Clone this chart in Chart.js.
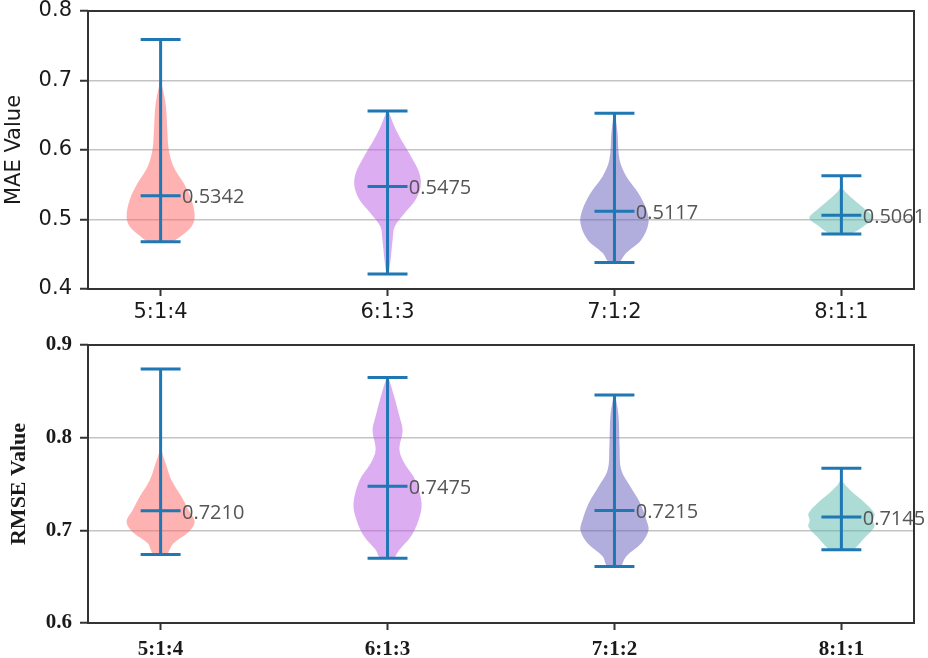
<!DOCTYPE html>
<html>
<head>
<meta charset="utf-8">
<script src="https://cdn.jsdelivr.net/npm/chart.js@4.4.1/dist/chart.umd.min.js"></script>
<style>
  html, body { margin: 0; padding: 0; background: #fff; }
  #wrap { width: 928px; height: 658px; }
  .box { position: relative; width: 928px; height: 329px; }
</style>
</head>
<body>
<div id="wrap">
  <div class="box"><canvas id="mae"></canvas></div>
  <div class="box"><canvas id="rmse"></canvas></div>
</div>
<script>
// ---------------- DATA ----------------
const categories = ['5:1:4', '6:1:3', '7:1:2', '8:1:1'];
const positions = [1, 2, 3, 4];

const maeTicks = [0.4, 0.5, 0.6, 0.7, 0.8];
const maeMin  = [0.468, 0.4216, 0.438, 0.479];
const maeMax  = [0.759, 0.656, 0.653, 0.563];
const maeMean = [0.5342, 0.5475, 0.5117, 0.5061];

const rmseTicks = [0.6, 0.7, 0.8, 0.9];
const rmseMin  = [0.674, 0.670, 0.661, 0.679];
const rmseMax  = [0.874, 0.865, 0.846, 0.767];
const rmseMean = [0.7210, 0.7475, 0.7215, 0.7145];

// violin density profiles: [value, relative half-width]
const maeProfile514 = [[0.468,0.35],[0.477,0.62],[0.490,0.91],[0.504,1.0],[0.528,0.91],[0.552,0.68],[0.576,0.38],[0.600,0.24],[0.624,0.20],[0.645,0.18],[0.665,0.15],[0.682,0.09],[0.696,0.03],[0.730,0.01],[0.759,0.005]];
const maeProfile613 = [[0.4216,0.03],[0.442,0.09],[0.471,0.15],[0.490,0.21],[0.509,0.50],[0.528,0.82],[0.547,0.97],[0.566,0.94],[0.590,0.70],[0.614,0.41],[0.633,0.21],[0.656,0.02]];
const maeProfile712 = [[0.438,0.15],[0.452,0.35],[0.471,0.79],[0.495,1.0],[0.514,0.94],[0.538,0.70],[0.562,0.35],[0.586,0.15],[0.624,0.09],[0.645,0.04],[0.653,0.01]];
const maeProfile811 = [[0.479,0.29],[0.490,0.65],[0.502,0.94],[0.514,0.71],[0.529,0.35],[0.543,0.06],[0.553,0.02],[0.563,0.01]];

const rmseProfile514 = [[0.674,0.20],[0.686,0.38],[0.697,0.79],[0.709,1.0],[0.722,0.82],[0.736,0.62],[0.754,0.32],[0.772,0.15],[0.787,0.03],[0.820,0.01],[0.874,0.005]];
const rmseProfile613 = [[0.670,0.20],[0.679,0.35],[0.693,0.68],[0.711,0.91],[0.729,1.0],[0.754,0.82],[0.772,0.50],[0.787,0.35],[0.808,0.44],[0.823,0.35],[0.844,0.20],[0.865,0.02]];
const rmseProfile712 = [[0.661,0.20],[0.672,0.35],[0.686,0.79],[0.700,1.0],[0.711,0.94],[0.729,0.76],[0.747,0.47],[0.765,0.20],[0.790,0.15],[0.823,0.12],[0.840,0.05],[0.846,0.01]];
const rmseProfile811 = [[0.679,0.35],[0.682,0.44],[0.693,0.71],[0.704,0.97],[0.711,0.93],[0.718,0.97],[0.729,0.71],[0.744,0.24],[0.754,0.03],[0.767,0.01]];

// ---------------- STYLE ----------------
const violinColors = ['rgba(255,102,102,0.5)', 'rgba(186,92,228,0.5)', 'rgba(100,92,186,0.5)', 'rgba(90,185,172,0.5)'];
const lineBlue = '#1f77b4';
const HALF_WIDTH = 0.15;   // max violin half-width (x units)
const CAP_HALF = 0.088;
const LABEL_DX = 0.094;

function violinPolygon(pos, profile) {
  const right = profile.map(([v, d]) => ({ x: pos + d * HALF_WIDTH, y: v }));
  const left = profile.slice().reverse().map(([v, d]) => ({ x: pos - d * HALF_WIDTH, y: v }));
  const pts = right.concat(left);
  pts.push({ ...pts[0] });
  return pts;
}

function whiskerPoints(pos, mn, mx, mean) {
  const gap = { x: pos, y: null };
  return [
    { x: pos, y: mn }, { x: pos, y: mx }, gap,
    { x: pos - CAP_HALF, y: mx }, { x: pos + CAP_HALF, y: mx }, gap,
    { x: pos - CAP_HALF, y: mn }, { x: pos + CAP_HALF, y: mn }, gap,
    { x: pos - CAP_HALF, y: mean }, { x: pos + CAP_HALF, y: mean }
  ];
}

function buildChart(id, cfg) {
  const datasets = [];
  positions.forEach((p, i) => {
    datasets.push({
      data: whiskerPoints(p, cfg.min[i], cfg.max[i], cfg.mean[i]),
      showLine: true, spanGaps: false, borderColor: lineBlue, borderWidth: 3,
      pointRadius: 0, fill: false, order: 0, borderCapStyle: 'butt'
    });
  });
  positions.forEach((p, i) => {
    datasets.push({
      data: violinPolygon(p, cfg.profiles[i]),
      showLine: true, borderWidth: 0, borderColor: 'rgba(0,0,0,0)',
      backgroundColor: violinColors[i], pointRadius: 0, fill: 'shape',
      tension: 0.35, order: 1
    });
  });

  const framePlugin = {
    id: 'frameAndLabels',
    afterDraw(chart) {
      const { ctx, chartArea: a, scales } = chart;
      ctx.save();
      ctx.strokeStyle = '#333';
      ctx.lineWidth = 2;
      ctx.strokeRect(a.left, a.top, a.right - a.left, a.bottom - a.top);
      ctx.font = '20px "Open Sans"';
      ctx.fillStyle = '#555';
      ctx.textAlign = 'left';
      ctx.textBaseline = 'middle';
      positions.forEach((p, i) => {
        const x = scales.x.getPixelForValue(p + LABEL_DX);
        const y = scales.y.getPixelForValue(cfg.mean[i]);
        ctx.fillText(cfg.mean[i].toFixed(4), x, y + 2);
      });
      ctx.restore();
    }
  };

  return new Chart(document.getElementById(id), {
    type: 'scatter',
    data: { datasets },
    plugins: [framePlugin],
    options: {
      responsive: true, maintainAspectRatio: false, animation: false,
      layout: { padding: { top: cfg.padTop, right: 14, left: 0, bottom: 0 } },
      plugins: { legend: { display: false }, tooltip: { enabled: false } },
      scales: {
        x: {
          type: 'linear', min: 0.68, max: 4.32,
          afterBuildTicks: s => { s.ticks = positions.map(v => ({ value: v })); },
          afterFit: s => { s.height = cfg.xHeight; },
          ticks: {
            callback: v => categories[Math.round(v) - 1],
            font: cfg.tickFont, color: '#1a1a1a', padding: cfg.xPad, maxRotation: 0
          },
          grid: { drawOnChartArea: false, drawTicks: true, tickLength: 7, tickColor: '#333', tickWidth: 2 },
          border: { display: false }
        },
        y: {
          min: cfg.ticks[0], max: cfg.ticks[cfg.ticks.length - 1],
          afterBuildTicks: s => { s.ticks = cfg.ticks.map(v => ({ value: v })); },
          afterFit: s => { s.width = 88; s.paddingTop = 0; s.paddingBottom = 0; },
          ticks: { callback: v => v.toFixed(1), font: cfg.tickFont, color: '#1a1a1a', padding: 8 },
          grid: { color: '#c4c4c4', lineWidth: 1.5, drawTicks: true, tickLength: 8, tickColor: '#333', tickWidth: 2 },
          border: { display: false },
          title: { display: true, text: cfg.title, font: cfg.titleFont, color: '#1a1a1a', padding: cfg.titlePad }
        }
      }
    }
  });
}

buildChart('mae', {
  ticks: maeTicks, min: maeMin, max: maeMax, mean: maeMean,
  profiles: [maeProfile514, maeProfile613, maeProfile712, maeProfile811],
  title: 'MAE Value', padTop: 11, xHeight: 40, xPad: 4,
  tickFont: { family: 'DejaVu Sans', size: 21 },
  titleFont: { family: 'DejaVu Sans', size: 21 },
  titlePad: { top: 2, bottom: 2 }
});

buildChart('rmse', {
  ticks: rmseTicks, min: rmseMin, max: rmseMax, mean: rmseMean,
  profiles: [rmseProfile514, rmseProfile613, rmseProfile712, rmseProfile811],
  title: 'RMSE Value', padTop: 16, xHeight: 35, xPad: 7,
  tickFont: { family: 'Liberation Serif', size: 21, weight: 'bold' },
  titleFont: { family: 'Liberation Serif', size: 22, weight: 'bold' },
  titlePad: { top: 6, bottom: 2 }
});
</script>
</body>
</html>
